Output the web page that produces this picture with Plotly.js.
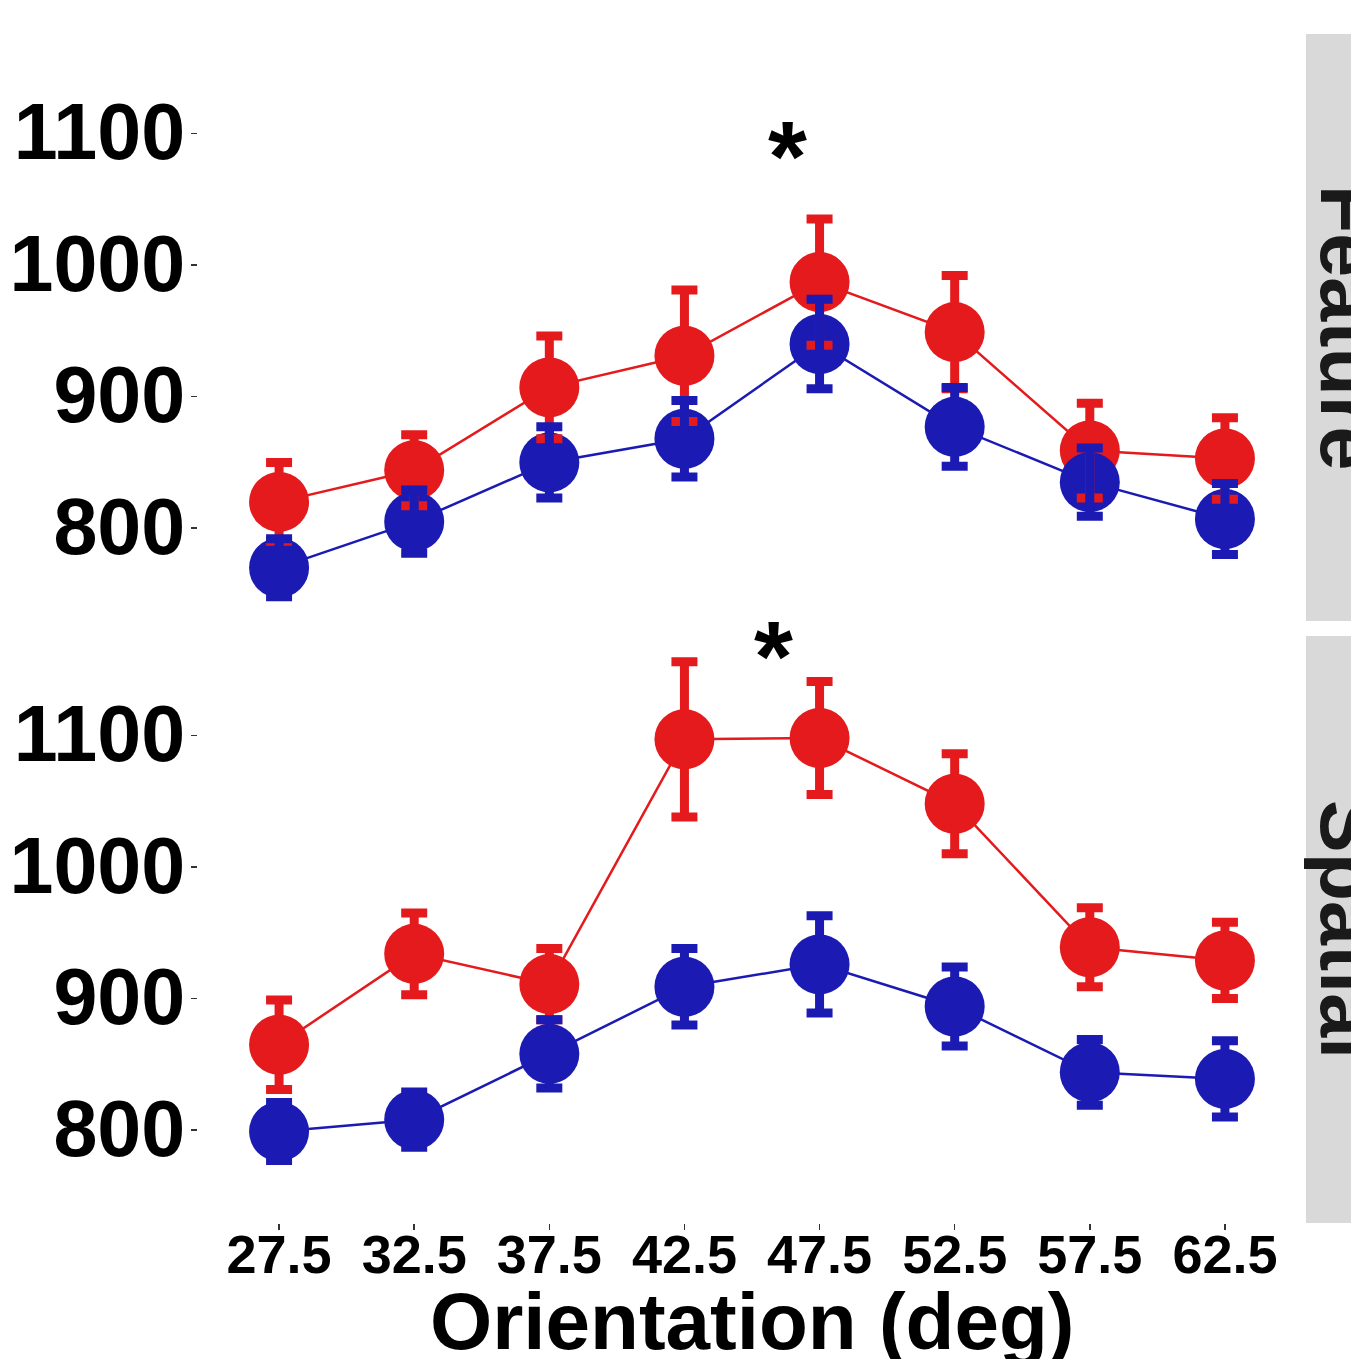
<!DOCTYPE html>
<html>
<head>
<meta charset="utf-8">
<script src="https://cdn.plot.ly/plotly-3.0.1.min.js"></script>
<style>html,body{margin:0;padding:0;background:#fff;}#chart{width:1351px;height:1359px;}</style>
</head>
<body>
<div id="chart"></div>
<script>
// ---- data ----
const orientations = [27.5, 32.5, 37.5, 42.5, 47.5, 52.5, 57.5, 62.5];
const tickLabels = ['27.5', '32.5', '37.5', '42.5', '47.5', '52.5', '57.5', '62.5'];
const yTicks = [800, 900, 1000, 1100];
const panelNames = ['Feature', 'Spatial'];
const xTitle = 'Orientation (deg)';

const featureRed = [820, 844, 907, 931, 987, 949, 859, 853];
const featureRedErr = [30, 27, 39, 50, 48, 43, 36, 31];
const featureBlue = [770, 805, 850, 868, 940, 877, 835, 807];
const featureBlueErr = [22, 24, 27, 29, 34, 30, 26, 27];

const spatialRed = [865, 934, 911, 1097, 1098, 1048, 939, 929];
const spatialRedErr = [34, 31, 27, 59, 43, 38, 30, 29];
const spatialBlue = [799, 808, 858, 909, 926, 894, 844, 839];
const spatialBlueErr = [22, 21, 26, 29, 37, 30, 25, 29];

const starX = [46.33, 45.78];
const starY = [1083, 1160];

// ---- style ----
const RED = '#E41A1C';
const BLUE = '#1B1BB3';
const FONT = 'Liberation Sans, Arial, Helvetica, sans-serif';

function panelTraces(xa, ya, red, redErr, blue, blueErr) {
  const t = [];
  t.push({x: orientations, y: red, xaxis: xa, yaxis: ya, type: 'scatter', mode: 'lines',
          line: {color: RED, width: 2.5}, hoverinfo: 'skip', showlegend: false});
  t.push({x: orientations, y: blue, xaxis: xa, yaxis: ya, type: 'scatter', mode: 'lines',
          line: {color: BLUE, width: 2.5}, hoverinfo: 'skip', showlegend: false});
  t.push({x: orientations, y: red, xaxis: xa, yaxis: ya, type: 'scatter', mode: 'markers',
          marker: {color: RED, size: 60, line: {width: 0}}, showlegend: false});
  t.push({x: orientations, y: blue, xaxis: xa, yaxis: ya, type: 'scatter', mode: 'markers',
          marker: {color: BLUE, size: 60, line: {width: 0}}, showlegend: false});
  t.push({x: orientations, y: red, xaxis: xa, yaxis: ya, type: 'scatter', mode: 'markers',
          marker: {color: RED, size: 1, opacity: 0},
          error_y: {type: 'data', array: redErr, visible: true, color: RED, thickness: 9, width: 13},
          hoverinfo: 'skip', showlegend: false});
  t.push({x: orientations, y: blue, xaxis: xa, yaxis: ya, type: 'scatter', mode: 'markers',
          marker: {color: BLUE, size: 1, opacity: 0},
          error_y: {type: 'data', array: blueErr, visible: true, color: BLUE, thickness: 9, width: 13},
          hoverinfo: 'skip', showlegend: false});
  return t;
}

const data = [].concat(
  panelTraces('x', 'y', featureRed, featureRedErr, featureBlue, featureBlueErr),
  panelTraces('x2', 'y2', spatialRed, spatialRedErr, spatialBlue, spatialBlueErr)
);

const topDom = [0.50631, 1];
const botDom = [0, 0.49369];
const yRange = [729.5, 1175.5];
const xRange = [24.5, 65.5];

const yAxisCommon = {
  range: yRange, tickvals: yTicks, ticktext: yTicks.map(String),
  ticks: 'outside', ticklen: 6, tickwidth: 1.5, tickcolor: '#333333',
  ticklabelstandoff: -10, ticklabelshift: -2,
  showgrid: false, zeroline: false, showline: false,
  tickfont: {family: FONT, size: 79, color: '#000', weight: 700}
};

const layout = {
  width: 1351, height: 1359,
  margin: {l: 198, r: 45, t: 34, b: 136},
  paper_bgcolor: '#ffffff', plot_bgcolor: '#ffffff',
  showlegend: false,
  xaxis: {domain: [0, 1], anchor: 'y', range: xRange, showticklabels: false, ticks: '',
          showgrid: false, zeroline: false, showline: false},
  yaxis: Object.assign({domain: topDom, anchor: 'x'}, yAxisCommon),
  xaxis2: {domain: [0, 1], anchor: 'y2', range: xRange, tickvals: orientations, ticktext: tickLabels,
           ticks: 'outside', ticklen: 6, tickwidth: 1.5, tickcolor: '#333333',
           ticklabelstandoff: -22,
           showgrid: false, zeroline: false, showline: false,
           tickfont: {family: FONT, size: 54, color: '#000', weight: 700}},
  yaxis2: Object.assign({domain: botDom, anchor: 'x2'}, yAxisCommon),
  shapes: [
    {type: 'rect', xref: 'paper', yref: 'paper', x0: 1, x1: 1.12, y0: topDom[0], y1: topDom[1],
     fillcolor: '#D9D9D9', line: {width: 0}, layer: 'below'},
    {type: 'rect', xref: 'paper', yref: 'paper', x0: 1, x1: 1.12, y0: botDom[0], y1: botDom[1],
     fillcolor: '#D9D9D9', line: {width: 0}, layer: 'below'}
  ],
  annotations: [
    {xref: 'paper', yref: 'paper', x: 1.0383, y: (topDom[0] + topDom[1]) / 2, text: panelNames[0],
     textangle: 90, showarrow: false, xanchor: 'center', yanchor: 'middle',
     font: {family: FONT, size: 79, color: '#1a1a1a', weight: 700}},
    {xref: 'paper', yref: 'paper', x: 1.0383, y: (botDom[0] + botDom[1]) / 2, text: panelNames[1],
     textangle: 90, showarrow: false, xanchor: 'center', yanchor: 'middle',
     font: {family: FONT, size: 79, color: '#1a1a1a', weight: 700}},
    {xref: 'paper', yref: 'paper', x: 0.5, y: -0.0827, text: xTitle,
     showarrow: false, xanchor: 'center', yanchor: 'middle',
     font: {family: FONT, size: 80, color: '#000', weight: 700}},
    {xref: 'x', yref: 'y', x: starX[0], y: starY[0], text: '*', showarrow: false,
     font: {family: FONT, size: 100, color: '#000', weight: 700}},
    {xref: 'x2', yref: 'y2', x: starX[1], y: starY[1], text: '*', showarrow: false,
     font: {family: FONT, size: 100, color: '#000', weight: 700}}
  ]
};

Plotly.newPlot('chart', data, layout, {staticPlot: true, displayModeBar: false});
</script>
</body>
</html>
